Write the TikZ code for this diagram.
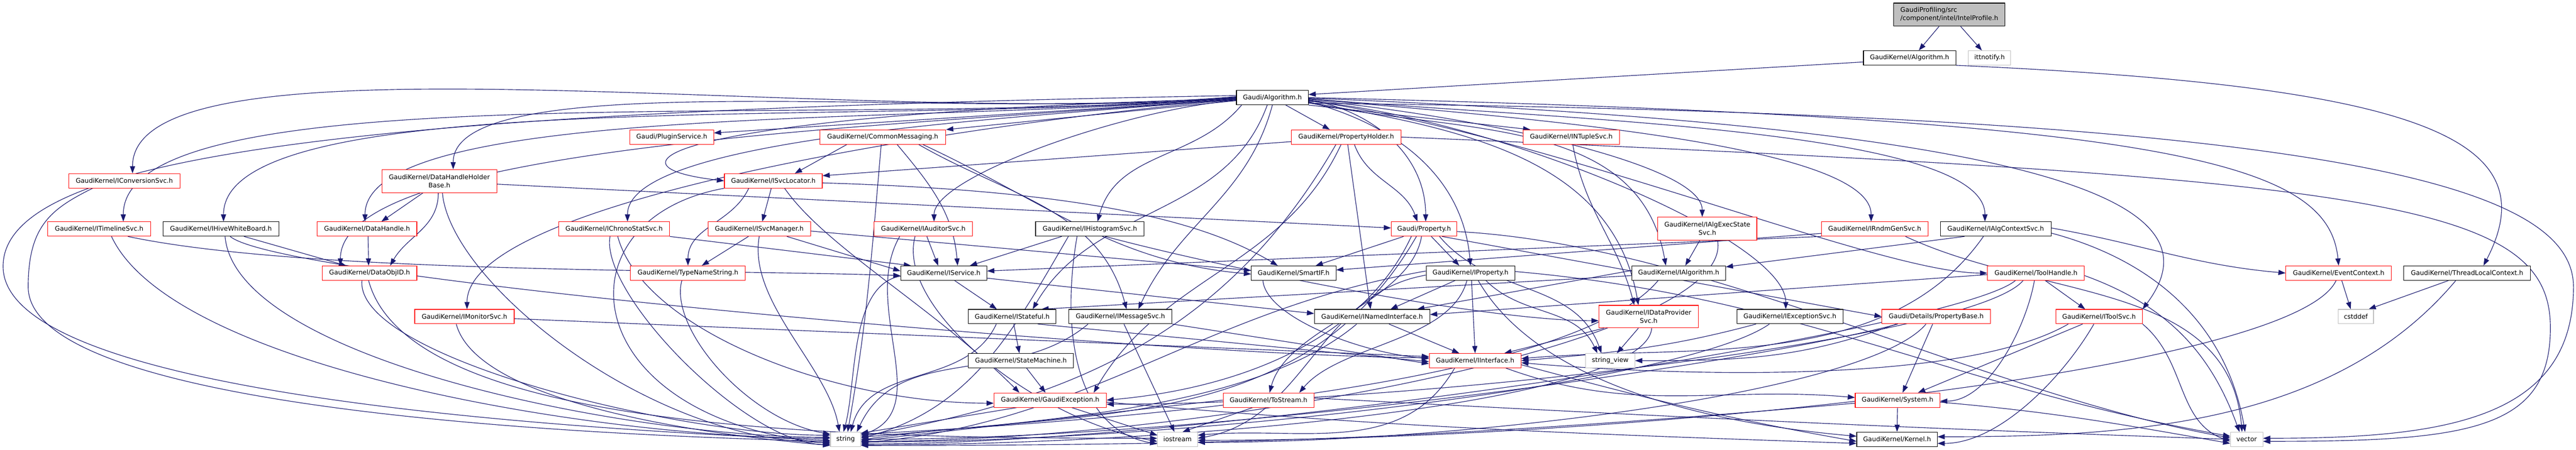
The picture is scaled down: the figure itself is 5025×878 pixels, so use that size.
\documentclass[tikz,border=0pt]{standalone}
\usepackage{fontspec}
\setmainfont{DejaVu Sans}
\usetikzlibrary{arrows.meta}
\definecolor{edgec}{HTML}{191970}
\definecolor{redb}{HTML}{FF0000}
\definecolor{blkb}{HTML}{000000}
\definecolor{grayb}{HTML}{BFBFBF}
\definecolor{rootf}{HTML}{BFBFBF}
\pgfdeclarelayer{bg}
\pgfsetlayers{bg,main}
\tikzset{
  bx/.style={draw, line width=1.1pt, fill=white, inner sep=0pt, minimum height=28pt,
    font=\fontsize{12.6}{16}\selectfont, align=center},
  rd/.style={draw=redb},
  bk/.style={draw=blkb},
  gy/.style={draw=grayb},
  e/.style={draw=edgec, line width=1.15pt, -{Stealth[length=14pt,width=10pt,inset=0pt]}},
}
\begin{document}
\begin{tikzpicture}[x=1pt,y=1pt]
\useasboundingbox (0,0) rectangle (5025,-878);
% ---------- nodes ----------
\node[bx,bk,fill=rootf,align=left,minimum width=217pt,minimum height=45pt] (ip) at (3802.5,-28.5) {GaudiProfiling/src\\/component/intel/IntelProfile.h};
\node[bx,bk,minimum width=180pt] (gkalg) at (3725,-113) {GaudiKernel/Algorithm.h};
\node[bx,gy,minimum width=82pt] (itt) at (3881,-113) {ittnotify.h};
\node[bx,bk,minimum width=140pt] (galg) at (2482,-190.5) {Gaudi/Algorithm.h};
% row 3
\node[bx,rd,minimum width=163pt] (plug) at (1310.5,-267.5) {Gaudi/PluginService.h};
\node[bx,rd,minimum width=246pt] (cmsg) at (1722,-267.5) {GaudiKernel/CommonMessaging.h};
\node[bx,rd,minimum width=214pt] (pholder) at (2626,-267.5) {GaudiKernel/PropertyHolder.h};
\node[bx,rd,minimum width=188pt] (ntup) at (3065,-267.5) {GaudiKernel/INTupleSvc.h};
% row 4
\node[bx,rd,minimum width=217pt] (iconv) at (242.5,-353) {GaudiKernel/IConversionSvc.h};
\node[bx,rd,minimum width=224pt,minimum height=45pt] (dhhb) at (857,-353.5) {GaudiKernel/DataHandleHolder\\Base.h};
\node[bx,rd,minimum width=191pt] (isvcloc) at (1508.5,-353) {GaudiKernel/ISvcLocator.h};
% row 5
\node[bx,rd,minimum width=201pt] (itime) at (193.5,-447) {GaudiKernel/ITimelineSvc.h};
\node[bx,bk,minimum width=226pt] (ihive) at (431,-447) {GaudiKernel/IHiveWhiteBoard.h};
\node[bx,rd,minimum width=194pt] (dh) at (716,-447) {GaudiKernel/DataHandle.h};
\node[bx,rd,minimum width=216pt] (ichrono) at (1198,-447) {GaudiKernel/IChronoStatSvc.h};
\node[bx,rd,minimum width=200pt] (isvcmgr) at (1481,-447) {GaudiKernel/ISvcManager.h};
\node[bx,rd,minimum width=192pt] (iaud) at (1801,-447) {GaudiKernel/IAuditorSvc.h};
\node[bx,bk,minimum width=212pt] (ihist) at (2126,-447) {GaudiKernel/IHistogramSvc.h};
\node[bx,rd,minimum width=128pt] (prop) at (2778,-447) {Gaudi/Property.h};
\node[bx,rd,minimum width=193pt,minimum height=45pt] (iaes) at (3330.5,-446.5) {GaudiKernel/IAlgExecState\\Svc.h};
\node[bx,rd,minimum width=208pt] (irndm) at (3657,-447) {GaudiKernel/IRndmGenSvc.h};
\node[bx,bk,minimum width=216pt] (iactx) at (3893,-447) {GaudiKernel/IAlgContextSvc.h};
% row 6
\node[bx,rd,minimum width=184pt] (doid) at (721,-533) {GaudiKernel/DataObjID.h};
\node[bx,rd,minimum width=224pt] (tns) at (1342,-533) {GaudiKernel/TypeNameString.h};
\node[bx,bk,minimum width=168pt] (isvc) at (1841,-533) {GaudiKernel/IService.h};
\node[bx,bk,minimum width=165pt] (smartif) at (2523.5,-533) {GaudiKernel/SmartIF.h};
\node[bx,bk,minimum width=173pt] (iprop) at (2868.5,-533) {GaudiKernel/IProperty.h};
\node[bx,bk,minimum width=183pt] (ialg) at (3274.5,-533) {GaudiKernel/IAlgorithm.h};
\node[bx,rd,minimum width=189pt] (toolh) at (3971.5,-533) {GaudiKernel/ToolHandle.h};
\node[bx,rd,minimum width=206pt] (evctx) at (4562,-533) {GaudiKernel/EventContext.h};
\node[bx,bk,minimum width=247pt] (tlc) at (4812.5,-533) {GaudiKernel/ThreadLocalContext.h};
% row 7
\node[bx,rd,minimum width=194pt] (imon) at (906,-618) {GaudiKernel/IMonitorSvc.h};
\node[bx,bk,minimum width=171pt] (istate) at (1974.5,-618) {GaudiKernel/IStateful.h};
\node[bx,bk,minimum width=201pt] (imsg) at (2185.5,-618) {GaudiKernel/IMessageSvc.h};
\node[bx,bk,minimum width=225pt] (inamed) at (2676.5,-618) {GaudiKernel/INamedInterface.h};
\node[bx,rd,minimum width=194pt,minimum height=44pt] (idps) at (3216,-618) {GaudiKernel/IDataProvider\\Svc.h};
\node[bx,bk,minimum width=207pt] (iexc) at (3491.5,-618) {GaudiKernel/IExceptionSvc.h};
\node[bx,rd,minimum width=212pt] (pbase) at (3777,-618) {Gaudi/Details/PropertyBase.h};
\node[bx,rd,minimum width=169pt] (itoolsvc) at (4094.5,-618) {GaudiKernel/IToolSvc.h};
\node[bx,gy,minimum width=69pt] (cstddef) at (4595.5,-618) {cstddef};
% row 8
\node[bx,bk,minimum width=205pt] (statem) at (1991.5,-704) {GaudiKernel/StateMachine.h};
\node[bx,rd,minimum width=179pt] (iintf) at (2877.5,-704) {GaudiKernel/IInterface.h};
\node[bx,gy,minimum width=96pt] (sview) at (3141,-704) {string\_view};
% row 9
\node[bx,rd,minimum width=219pt] (gexc) at (2048.5,-781) {GaudiKernel/GaudiException.h};
\node[bx,rd,minimum width=177pt] (tostr) at (2474.5,-781) {GaudiKernel/ToStream.h};
\node[bx,rd,minimum width=165pt] (system) at (3701.5,-781) {GaudiKernel/System.h};
% row 10
\node[bx,gy,minimum width=59pt] (string) at (1649.5,-857.5) {string};
\node[bx,gy,minimum width=78pt] (iostream) at (2297,-857.5) {iostream};
\node[bx,bk,minimum width=157pt] (kernel) at (3700.5,-857.5) {GaudiKernel/Kernel.h};
\node[bx,gy,minimum width=63pt] (vector) at (4382.5,-857.5) {vector};
% waypoints
\coordinate (wR) at (5020,-560);
\coordinate (wR2) at (4975,-640);
\coordinate (wL) at (6,-520);
\coordinate (wL2) at (55,-560);
% ---------- edges ----------
\begin{pgfonlayer}{bg}
\fill[white] (0,0) rectangle (5025,-878);
% top
\draw[e] ([xshift=-20pt]ip.south) -- ([xshift=18pt]gkalg.north);
\draw[e] ([xshift=22pt]ip.south) -- ([xshift=-15pt]itt.north);
\draw[e] ([yshift=-8pt]gkalg.west) -- ([yshift=6pt]galg.east);
\draw[e] (gkalg.south east) .. controls +(900,-40) and +(130,250) .. ([xshift=32pt]tlc.north);
% Gaudi/Algorithm.h
\draw[e] ([yshift=-4pt]galg.west) -- ([yshift=8pt]plug.east);
\draw[e] ([yshift=-6pt]galg.west) -- (cmsg.north east);
\draw[e] ([xshift=26pt]galg.south) -- ([xshift=-32pt]pholder.north);
\draw[e] (galg.south east) -- ([xshift=-80pt]ntup.north);
\draw[e] ([yshift=2pt]galg.west) .. controls +(185:758) and +(90:295) .. ([xshift=16pt]iconv.north);
\draw[e] ([yshift=1pt]galg.west) .. controls +(185:767) and +(90:298) .. ([xshift=47pt]itime.north);
\draw[e] ([yshift=0pt]galg.west) .. controls +(185:699) and +(90:272) .. ([xshift=5pt]ihive.north);
\draw[e] ([yshift=-1pt]galg.west) .. controls +(185:603) and +(90:234) .. ([xshift=-4pt]dh.north);
\draw[e] ([yshift=-2pt]galg.west) .. controls +(185:624) and +(90:243) .. ([xshift=-57pt]doid.north);
\draw[e] ([yshift=0pt]galg.west) .. controls +(185:538) and +(90:209) .. ([xshift=27pt]dhhb.north);
\draw[e] ([yshift=-3pt]galg.west) .. controls +(185:426) and +(90:166) .. ([xshift=26pt]ichrono.north);
\draw[e] ([yshift=-4pt]galg.west) .. controls +(185:546) and +(90:212) .. ([xshift=5pt]imon.north);
\draw[e] ([yshift=-5pt]galg.west) .. controls +(185:224) and +(90:87) .. ([xshift=21pt]iaud.north);
\draw[e] ([yshift=-2pt]galg.west) .. controls +(-1100,-30) and +(-260,30) .. (isvcloc.west);
\draw[e] ([yshift=4pt]galg.west) .. controls +(-1700,-30) and +(0,220) .. (wL) .. controls +(0,-230) and +(-700,30) .. ([yshift=-2pt]string.west);
\draw[e] ([xshift=-60pt]galg.south) .. controls +(-130:142) and +(75:142) .. ([xshift=15pt]ihist.north);
\draw[e] ([xshift=-10pt]galg.south) .. controls +(-110:237) and +(60:237) .. ([xshift=40pt]istate.north);
\draw[e] ([xshift=0pt]galg.south) .. controls +(-105:186) and +(65:186) .. ([xshift=35pt]imsg.north);
\draw[e] ([yshift=-4pt]galg.east) .. controls +(-10:129) and +(90:129) .. ([xshift=3pt]prop.north);
\draw[e] ([yshift=-8pt]galg.east) .. controls +(-15:176) and +(95:176) .. (iprop.north);
\draw[e] ([yshift=-10pt]galg.east) .. controls +(-12:299) and +(100:299) .. ([xshift=-25pt]ialg.north);
\draw[e] ([yshift=-9pt]galg.east) .. controls +(-10:295) and +(100:295) .. ([xshift=-20pt]idps.north);
\draw[e] ([yshift=-5pt]galg.east) .. controls +(-5:281) and +(90:109) .. ([xshift=-10pt]iaes.north);
\draw[e] ([yshift=-7pt]galg.east) .. controls +(-5:357) and +(90:139) .. ([xshift=-8pt]iexc.north);
\draw[e] ([yshift=-3pt]galg.east) .. controls +(-5:395) and +(90:153) .. ([xshift=-7pt]irndm.north);
\draw[e] ([yshift=-2pt]galg.east) .. controls +(-5:471) and +(90:183) .. ([xshift=-21pt]iactx.north);
\draw[e] ([yshift=-6pt]galg.east) .. controls +(-8:480) and +(180:213) .. (toolh.west);
\draw[e] ([yshift=-1pt]galg.east) .. controls +(1500,-60) and +(150,200) .. (itoolsvc.north east);
\draw[e] ([yshift=0pt]galg.east) .. controls +(1700,-40) and +(-20,200) .. (evctx.north);
\draw[e] ([yshift=-11pt]galg.east) .. controls +(2000,-20) and +(0,200) .. (wR) .. controls +(0,-260) and +(350,0) .. ([yshift=2pt]vector.east);
% CommonMessaging
\draw[e] ([xshift=-70pt]cmsg.south) -- ([xshift=42pt]isvcloc.north);
\draw[e] ([xshift=-3pt]cmsg.south) .. controls +(-95:220) and +(80:220) .. ([xshift=4pt]string.north);
\draw[e] ([xshift=28pt]cmsg.south) .. controls +(-50:103) and +(95:103) .. ([xshift=27pt]isvc.north);
\draw[e] ([xshift=70pt]cmsg.south) .. controls +(-30:202) and +(105:202) .. ([xshift=12pt]imsg.north);
\draw[e] ([xshift=78pt]cmsg.south) .. controls +(-25:269) and +(175:269) .. ([yshift=-2pt]smartif.west);
% PropertyHolder
\draw[e] ([yshift=-9pt]pholder.west) -- ([yshift=10pt]isvcloc.east);
\draw[e] ([xshift=16pt]pholder.south) .. controls +(-70:76) and +(110:76) .. ([xshift=-13pt]prop.north);
\draw[e] ([xshift=3pt]pholder.south) -- ([xshift=-3pt]inamed.north);
\draw[e] ([xshift=-10pt]pholder.south) .. controls +(-115:267) and +(60:267) .. ([xshift=85pt]gexc.north);
\draw[e] ([xshift=-20pt]pholder.south) .. controls +(-120:424) and +(10:424) .. ([yshift=6pt]string.east);
\draw[e] (pholder.east) .. controls +(1900,-80) and +(0,250) .. (wR2) .. controls +(0,-200) and +(400,0) .. ([yshift=-4pt]vector.east);
% INTupleSvc
\draw[e] ([xshift=3pt]ntup.south) .. controls +(-80:131) and +(105:131) .. ([xshift=-28pt]idps.north);
% IConversionSvc
\draw[e] ([xshift=-62pt]iconv.south) .. controls +(-80,-40) and +(0,120) .. (wL2) .. controls +(0,-200) and +(-800,20) .. ([yshift=-4pt]string.west);
% ITimelineSvc
\draw[e] ([xshift=24pt]itime.south) .. controls +(-65:284) and +(180:455) .. ([yshift=2pt]string.west);
\draw[e] ([xshift=56pt]itime.south) .. controls +(-12:353) and +(178:353) .. ([yshift=-5pt]isvc.west);
% IHiveWhiteBoard
\draw[e] ([xshift=45pt]ihive.south) -- ([xshift=-46pt]doid.north);
\draw[e] ([xshift=18pt]ihive.south) .. controls +(-40:138) and +(180:458) .. ([yshift=6pt]iintf.west);
\draw[e] ([xshift=8pt]ihive.south) .. controls +(-85:243) and +(180:388) .. ([yshift=4pt]string.west);
% DataHandle / DataHandleHolderBase
\draw[e] ([xshift=2pt]dh.south) -- ([xshift=-2pt]doid.north);
\draw[e] ([xshift=-32pt]dhhb.south) -- ([xshift=28pt]dh.north);
\draw[e] ([xshift=-2pt]dhhb.south) .. controls +(-90:67) and +(60:67) .. ([xshift=40pt]doid.north);
\draw[e] ([yshift=-6pt]dhhb.east) -- ([yshift=2pt]prop.west);
\draw[e] ([xshift=6pt]dhhb.south) .. controls +(-85:176) and +(180:351) .. ([yshift=-6pt]string.west);
% ISvcLocator
\draw[e] ([xshift=-4pt]isvcloc.south) -- ([xshift=6pt]isvcmgr.north);
\draw[e] ([xshift=-48pt]isvcloc.south) .. controls +(-115:75) and +(90:75) .. (tns.north);
\draw[e] (isvcloc.south west) .. controls +(-330,-60) and +(-500,50) .. ([yshift=-8pt]string.west);
\draw[e] ([xshift=22pt]isvcloc.south) .. controls +(-55:142) and +(135:237) .. ([xshift=-60pt]gexc.north);
\draw[e] ([yshift=-4pt]isvcloc.east) .. controls +(500,-15) and +(-150,90) .. ([xshift=-31pt]smartif.north);
% IChronoStatSvc
\draw[e] (ichrono.south east) -- ([xshift=-64pt]isvc.north);
\draw[e] ([xshift=-8pt]ichrono.south) .. controls +(-100:115) and +(180:162) .. ([yshift=-10pt]string.west);
\draw[e] ([xshift=7pt]ichrono.south) .. controls +(-75:188) and +(180:313) .. ([yshift=-6pt]gexc.west);
% ISvcManager
\draw[e] ([xshift=-21pt]isvcmgr.south) -- ([xshift=27pt]tns.north);
\draw[e] ([xshift=0pt]isvcmgr.south) .. controls +(-100:129) and +(100:129) .. ([xshift=-12pt]string.north);
\draw[e] ([xshift=54pt]isvcmgr.south) -- ([yshift=4pt]isvc.west);
\draw[e] ([yshift=-4pt]isvcmgr.east) -- ([yshift=5pt]smartif.west);
% IAuditorSvc
\draw[e] ([xshift=7pt]iaud.south) -- ([xshift=-11pt]isvc.north);
\draw[e] ([xshift=-46pt]iaud.south) .. controls +(-120:154) and +(20:154) .. ([yshift=8pt]string.east);
\draw[e] ([xshift=-16pt]iaud.south) .. controls +(-105:145) and +(170:242) .. ([yshift=-4pt]iostream.west);
% IHistogramSvc
\draw[e] ([xshift=-55pt]ihist.south) -- ([xshift=51pt]isvc.north);
\draw[e] ([xshift=-42pt]ihist.south) .. controls +(-120:220) and +(15:220) .. ([yshift=2pt]string.east);
\draw[e] ([xshift=-25pt]ihist.south) .. controls +(-100:170) and +(170:170) .. ([yshift=-9pt]iostream.west);
\draw[e] ([xshift=30pt]ihist.south) .. controls +(-15:229) and +(180:229) .. ([yshift=-8pt]idps.west);
% Gaudi/Property.h
\draw[e] ([xshift=-40pt]prop.south) -- ([xshift=43pt]smartif.north);
\draw[e] ([xshift=14pt]prop.south) -- ([xshift=-22pt]iprop.north);
\draw[e] ([xshift=-5pt]prop.south) .. controls +(-100:133) and +(75:133) .. ([xshift=2pt]tostr.north);
\draw[e] ([xshift=-15pt]prop.south) .. controls +(-120:450) and +(8:450) .. ([yshift=-1pt]string.east);
\draw[e] ([xshift=35pt]prop.south) -- (pbase.west);
\draw[e] ([xshift=30pt]prop.south) .. controls +(-50:152) and +(110:152) .. ([xshift=-17pt]sview.north);
\draw[e] ([yshift=-5pt]prop.east) .. controls +(-3:487) and +(170:487) .. ([yshift=3pt]vector.west);
\draw[e] ([xshift=-25pt]prop.south) .. controls +(-115:237) and +(5:237) .. (gexc.east);
% IAlgExecStateSvc
\draw[e] ([xshift=-15pt]iaes.south) -- ([xshift=13pt]ialg.north);
\draw[e] ([xshift=20pt]iaes.south) .. controls +(-80:201) and +(0:670) .. ([yshift=-4pt]string.east);
% IRndmGenSvc
\draw[e] (irndm.south west) -- ([yshift=4pt]isvc.east);
\draw[e] ([yshift=6pt]irndm.south west) -- ([yshift=6pt]smartif.east);
\draw[e] ([xshift=60pt]irndm.south) .. controls +(-25:296) and +(95:296) .. ([xshift=-9pt]vector.north);
% IAlgContextSvc
\draw[e] ([xshift=-61pt]iactx.south) -- ([yshift=12pt]ialg.east);
\draw[e] ([xshift=-24pt]iactx.south) .. controls +(-125:327) and +(5:327) .. ([yshift=4pt]iintf.east);
\draw[e] ([yshift=2pt]iactx.east) .. controls +(-10:182) and +(175:182) .. (evctx.west);
\draw[e] ([yshift=-8pt]iactx.east) .. controls +(-15:211) and +(100:211) .. ([xshift=-3pt]vector.north);
% DataObjID
\draw[e] ([xshift=-15pt]doid.south) .. controls +(-95:150) and +(180:300) .. ([yshift=8pt]string.west);
\draw[e] ([xshift=-2pt]doid.south) .. controls +(-75:306) and +(180:612) .. ([yshift=2pt]iostream.west);
% TypeNameString
\draw[e] ([xshift=-12pt]tns.south) .. controls +(-105:98) and +(170:163) .. ([yshift=10pt]string.west);
% IService
\draw[e] ([xshift=21pt]isvc.south) -- ([xshift=-30pt]istate.north);
\draw[e] ([yshift=-10pt]isvc.east) -- ([yshift=6pt]inamed.west);
\draw[e] ([yshift=-6pt]isvc.west) .. controls +(190:101) and +(75:101) .. ([xshift=-4pt]string.north);
% SmartIF
\draw[e] ([xshift=-60pt]smartif.south) .. controls +(-85:70) and +(175:140) .. ([yshift=4pt]iintf.west);
% IProperty
\draw[e] ([xshift=-30pt]iprop.south) -- ([xshift=36pt]inamed.north);
\draw[e] ([xshift=2pt]iprop.south) -- ([xshift=0pt]iintf.north);
\draw[e] ([yshift=4pt]iprop.west) .. controls +(190:450) and +(5:450) .. ([yshift=-7pt]string.east);
\draw[e] ([yshift=-4pt]iprop.west) .. controls +(190:214) and +(10:214) .. ([yshift=2pt]iostream.east);
\draw[e] ([xshift=30pt]iprop.south) .. controls +(-45:101) and +(115:101) .. ([xshift=-25pt]sview.north);
\draw[e] ([yshift=3pt]iprop.east) .. controls +(-5:558) and +(170:558) .. ([yshift=6pt]vector.west);
\draw[e] ([xshift=-7pt]iprop.south) .. controls +(-105:123) and +(50:123) .. ([xshift=60pt]tostr.north);
\draw[e] ([xshift=15pt]iprop.south) .. controls +(-60:249) and +(175:249) .. ([yshift=6pt]kernel.west);
% IAlgorithm
\draw[e] ([yshift=5pt]ialg.west) -- ([xshift=-25pt]inamed.north east);
\draw[e] ([yshift=-5pt]ialg.west) -- ([xshift=-29pt]istate.north east);
\draw[e] ([xshift=-40pt]ialg.south) .. controls +(-130:250) and +(3:618) .. ([yshift=10pt]string.east);
% ToolHandle
\draw[e] ([xshift=18pt]toolh.south) -- ([xshift=-27pt]itoolsvc.north);
\draw[e] ([yshift=-3pt]toolh.west) -- ([yshift=4pt]inamed.east);
\draw[e] ([xshift=-3pt]toolh.south) .. controls +(-100:94) and +(0:94) .. ([yshift=-2pt]system.east);
\draw[e] ([xshift=-25pt]toolh.south) .. controls +(-130:150) and +(0:600) .. ([yshift=-8pt]gexc.east);
\draw[e] ([xshift=-40pt]toolh.south) .. controls +(-140:150) and +(0:700) .. ([yshift=-9pt]string.east);
\draw[e] ([yshift=-5pt]toolh.east) .. controls +(-20:168) and +(110:168) .. ([xshift=-14pt]vector.north);
% EventContext / ThreadLocalContext
\draw[e] ([xshift=6pt]evctx.south) -- ([xshift=-10pt]cstddef.north);
\draw[e] ([xshift=-5pt]evctx.south) .. controls +(-115:200) and +(0:800) .. ([yshift=-2pt]iostream.east);
\draw[e] ([xshift=-36pt]tlc.south) -- ([xshift=25pt]cstddef.north);
\draw[e] ([xshift=-22pt]tlc.south) .. controls +(-130:370) and +(0:370) .. ([yshift=5pt]kernel.east);
% IMonitorSvc
\draw[e] ([xshift=-16pt]imon.south) .. controls +(-75:150) and +(175:300) .. ([yshift=-12pt]string.west);
\draw[e] ([yshift=-4pt]imon.east) -- ([yshift=8pt]iintf.west);
% IStateful
\draw[e] ([xshift=3pt]istate.south) -- ([xshift=-3pt]statem.north);
\draw[e] ([xshift=-31pt]istate.south) .. controls +(-115:138) and +(75:138) .. ([xshift=10pt]string.north);
\draw[e] ([xshift=50pt]istate.south) -- ([yshift=-2pt]iintf.west);
% IMessageSvc
\draw[e] ([xshift=7pt]imsg.south) -- ([xshift=-6pt]iostream.north);
\draw[e] ([xshift=-63pt]imsg.south) .. controls +(-140:194) and +(65:194) .. ([xshift=22pt]string.north);
\draw[e] (imsg.south east) -- ([yshift=-6pt]iintf.west);
% INamedInterface
\draw[e] ([xshift=33pt]inamed.south) -- ([xshift=-31pt]iintf.north);
\draw[e] ([xshift=-30pt]inamed.south) .. controls +(-140:250) and +(5:387) .. ([yshift=4pt]string.east);
% IDataProviderSvc
\draw[e] ([xshift=-87pt]idps.south) -- ([xshift=-33pt]iintf.north east);
\draw[e] ([xshift=-20pt]idps.south) -- ([xshift=13pt]sview.north);
\draw[e] ([xshift=6pt]idps.south) .. controls +(-95:150) and +(0:600) .. ([yshift=-11pt]string.east);
% IExceptionSvc
\draw[e] ([xshift=-66pt]iexc.south) .. controls +(-165:181) and +(5:181) .. (iintf.east);
\draw[e] ([xshift=-40pt]iexc.south) .. controls +(-145:200) and +(0:650) .. ([yshift=-5pt]string.east);
% PropertyBase
\draw[e] ([xshift=-7pt]pbase.south) -- ([xshift=10pt]system.north);
\draw[e] ([xshift=-75pt]pbase.south) .. controls +(-165:300) and +(0:700) .. ([yshift=0pt]string.east);
\draw[e] ([xshift=-78pt]pbase.south) .. controls +(-160:201) and +(0:201) .. (sview.east);
\draw[e] ([xshift=-20pt]pbase.south) .. controls +(-130:180) and +(0:500) .. ([yshift=-6pt]iostream.east);
% IToolSvc
\draw[e] ([xshift=-32pt]itoolsvc.south) -- ([xshift=40pt]system.north);
\draw[e] ([xshift=-60pt]itoolsvc.south) .. controls +(-150:250) and +(-5:250) .. ([yshift=-4pt]iintf.east);
\draw[e] ([xshift=-10pt]itoolsvc.south) .. controls +(-120:120) and +(0:120) .. ([yshift=-8pt]kernel.east);
\draw[e] (itoolsvc.south east) .. controls +(-40:112) and +(160:112) .. ([yshift=-4pt]vector.west);
% StateMachine
\draw[e] ([xshift=11pt]statem.south) -- ([xshift=-9pt]gexc.north);
% IInterface
\draw[e] ([xshift=-30pt]iintf.south east) .. controls +(-20:267) and +(175:267) .. ([yshift=5pt]system.west);
\draw[e] ([yshift=-8pt]iintf.east) .. controls +(-15:262) and +(170:262) .. ([yshift=-4pt]kernel.west);
\draw[e] ([xshift=-40pt]iintf.south) .. controls +(-120:202) and +(5:202) .. ([yshift=8pt]iostream.east);
% GaudiException
\draw[e] ([xshift=-65pt]gexc.south) -- ([yshift=12pt]string.east);
\draw[e] ([xshift=42pt]gexc.south) -- ([yshift=8pt]iostream.west);
\draw[e] ([yshift=-4pt]gexc.east) .. controls +(-5:572) and +(178:572) .. ([yshift=-8pt]kernel.west);
% ToStream
\draw[e] (tostr.west) -- ([yshift=-3pt]string.east);
\draw[e] ([xshift=-31pt]tostr.south) -- ([xshift=10pt]iostream.north);
\draw[e] ([yshift=4pt]tostr.east) .. controls +(-3:698) and +(178:698) .. ([yshift=0pt]vector.west);
% System
\draw[e] (system.south) -- (kernel.north);
\draw[e] ([yshift=-6pt]system.west) .. controls +(185:757) and +(0:757) .. ([yshift=-12pt]string.east);
\draw[e] ([yshift=-4pt]system.east) .. controls +(-5:223) and +(170:223) .. ([yshift=-8pt]vector.west);
\end{pgfonlayer}
\end{tikzpicture}
\end{document}
